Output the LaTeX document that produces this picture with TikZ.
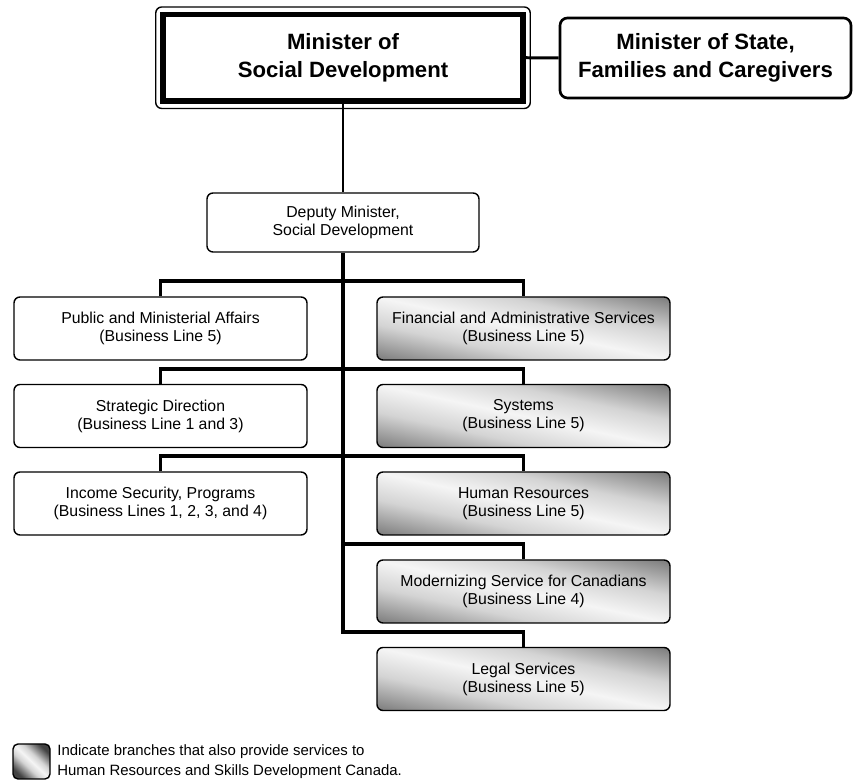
\documentclass[tikz,border=0pt]{standalone}
\usepackage{fontspec}
\setmainfont{Liberation Sans}
\usetikzlibrary{positioning}
\pgfdeclareverticalshading{sheen}{100bp}{color(0bp)=(black!74); color(10bp)=(black!74); color(23bp)=(black!46); color(37bp)=(black!17); color(50bp)=(black!4); color(63bp)=(black!17); color(77bp)=(black!46); color(90bp)=(black!74); color(100bp)=(black!74)}
\pgfdeclareverticalshading{sheensmall}{100bp}{color(0bp)=(black!74); color(25bp)=(black!74); color(33bp)=(black!46); color(41bp)=(black!17); color(50bp)=(black!4); color(59bp)=(black!17); color(67bp)=(black!46); color(75bp)=(black!74); color(100bp)=(black!74)}
\tikzset{
  unit/.style={draw,rounded corners=0.12cm,line width=0.8pt,minimum width=5.86cm,minimum height=1.26cm,inner sep=0pt,align=center,font=\fontsize{9pt}{10.2pt}\selectfont},
  shared/.style={unit,shading=sheen,shading angle=-12.1},
  link/.style={line width=2.2pt},
  headlink/.style={line width=1.7pt},
  headfont/.style={font=\fontsize{12.6pt}{15.9pt}\selectfont\bfseries}
}
\begin{document}
\begin{tikzpicture}
\useasboundingbox (0,0) rectangle (17.06,15.6);
\node[draw,line width=0.11cm,minimum width=7.2cm,minimum height=1.73cm,inner sep=0pt,align=center,headfont] (min) at (6.86,14.445) {Minister of\\Social Development};
\draw[rounded corners=0.12cm,line width=0.8pt] ([shift={(-0.09,0.095)}]min.north west) rectangle ([shift={(0.09,-0.095)}]min.south east);
\node[draw,line width=1.5pt,rounded corners=0.15cm,minimum width=5.82cm,minimum height=1.6cm,inner sep=0pt,align=center,headfont] (state) at (14.11,14.44) {Minister of State,\\Families and Caregivers};
\node[unit,minimum width=5.44cm,minimum height=1.18cm] (dep) at (6.86,11.15) {Deputy Minister,\\Social Development};

\node[unit] (pub) at (3.21,9.03) {Public and Ministerial Affairs\\(Business Line 5)};
\node[unit] (strat) at (3.21,7.28) {Strategic Direction\\(Business Line 1 and 3)};
\node[unit] (inc) at (3.21,5.53) {Income Security, Programs\\(Business Lines 1, 2, 3, and 4)};

\node[shared] (fin) at (10.47,9.03) {Financial and Administrative Services\\(Business Line 5)};
\node[shared] (sys) at (10.47,7.28) {Systems\\(Business Line 5)};
\node[shared] (hr) at (10.47,5.53) {Human Resources\\(Business Line 5)};
\node[shared] (mod) at (10.47,3.77) {Modernizing Service for Canadians\\(Business Line 4)};
\node[shared] (legal) at (10.47,2.02) {Legal Services\\(Business Line 5)};

\draw[headlink] (min.east) -- (state.west);
\draw[headlink] (min.south) -- (dep.north);
\draw[link] (pub.north) -- ++(0,0.3) -| (fin.north);
\draw[link] (strat.north) -- ++(0,0.3) -| (sys.north);
\draw[link] (inc.north) -- ++(0,0.3) -| (hr.north);
\coordinate (m4) at ([yshift=0.3cm]mod.north);
\coordinate (m5) at ([yshift=0.3cm]legal.north);
\draw[link] (dep.south |- m4) -- (m4) -- (mod.north);
\draw[link] (dep.south) |- (m5) -- (legal.north);

\node[unit,shading=sheensmall,shading angle=-43.4,minimum width=0.74cm,minimum height=0.7cm,rounded corners=0.1cm] (key) at (0.63,0.37) {};
\node[anchor=west,align=left,inner sep=0pt,font=\fontsize{8.5pt}{11.3pt}\selectfont] (keytext) at (1.14,0.37) {Indicate branches that also provide services to\\Human Resources and Skills Development Canada.};
\end{tikzpicture}
\end{document}
